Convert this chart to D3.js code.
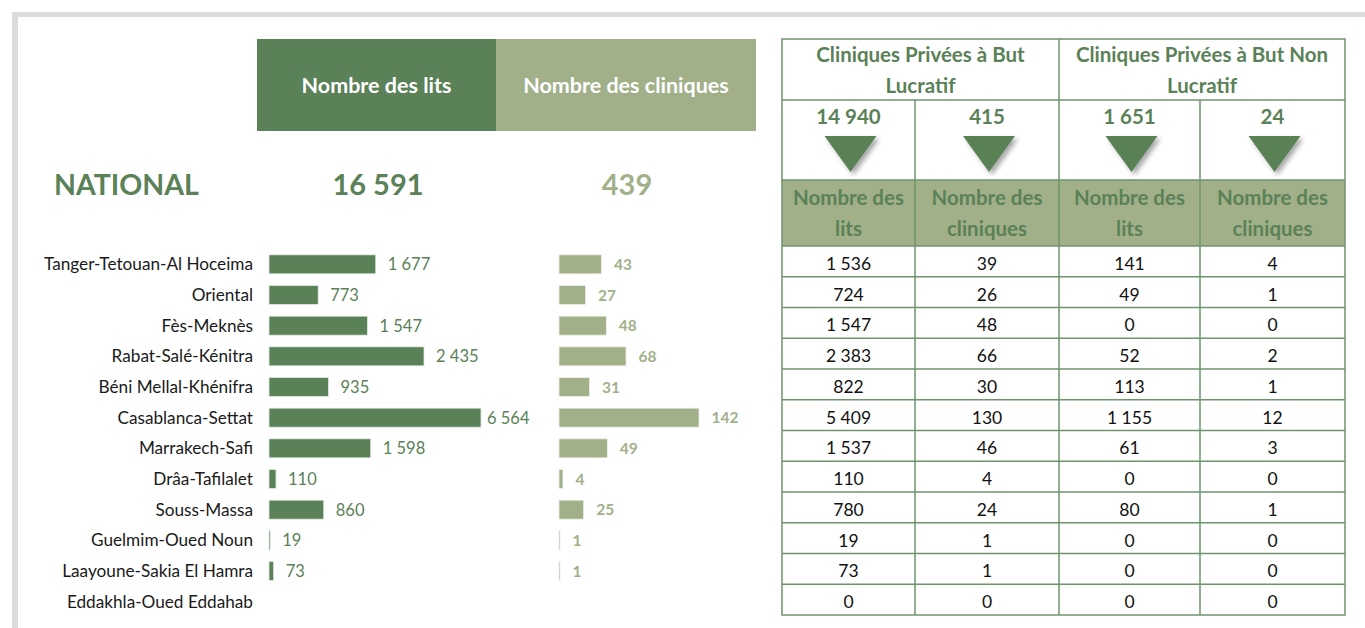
<!DOCTYPE html>
<html>
  <head>
    <meta charset="utf-8" />
    <title>Cliniques privées par région</title>
    <script src="https://d3js.org/d3.v7.min.js"></script>
    <style>
      body { margin: 0; background: #fff; }
      svg { display: block; font-family: Lato, "Open Sans", sans-serif; }
    </style>
  </head>
  <body>
    <svg width="1365" height="628"></svg>

    <script>
      // Regions (rows of the chart and the table)
      const regions = [
        "Tanger-Tetouan-Al Hoceima", "Oriental", "Fès-Meknès", "Rabat-Salé-Kénitra",
        "Béni Mellal-Khénifra", "Casablanca-Settat", "Marrakech-Safi", "Drâa-Tafilalet",
        "Souss-Massa", "Guelmim-Oued Noun", "Laayoune-Sakia El Hamra", "Eddakhla-Oued Eddahab",
      ];

      // Cliniques privées à but lucratif
      const lucratifLits = [1536, 724, 1547, 2383, 822, 5409, 1537, 110, 780, 19, 73, 0];
      const lucratifCliniques = [39, 26, 48, 66, 30, 130, 46, 4, 24, 1, 1, 0];
      // Cliniques privées à but non lucratif
      const nonLucratifLits = [141, 49, 0, 52, 113, 1155, 61, 0, 80, 0, 0, 0];
      const nonLucratifCliniques = [4, 1, 0, 2, 1, 12, 3, 0, 1, 0, 0, 0];

      const groupTitles = ["Cliniques Privées à But Lucratif", "Cliniques Privées à But Non Lucratif"];
      const subHeaders = ["Nombre des lits", "Nombre des cliniques"];

      // totals per region
      const totalLits = regions.map((r, i) => lucratifLits[i] + nonLucratifLits[i]);
      const totalCliniques = regions.map((r, i) => lucratifCliniques[i] + nonLucratifCliniques[i]);

      const darkGreen = "#5a8157";
      const lightGreen = "#a2b08a";
      const lineGreen = "#6f946c";

      const fmt = d3.formatLocale({ decimal: ",", thousands: " ", grouping: [3], currency: ["", ""] }).format(",d");

      const svg = d3.select("svg");

      // grey frame
      svg.append("rect").attr("x", 12).attr("y", 12).attr("width", 1353).attr("height", 5).attr("fill", "#dcdcdc");
      svg.append("rect").attr("x", 12).attr("y", 12).attr("width", 6).attr("height", 616).attr("fill", "#dcdcdc");

      // shadow for the triangles
      const defs = svg.append("defs");
      const f = defs.append("filter").attr("id", "shadow").attr("x", "-30%").attr("y", "-30%").attr("width", "170%").attr("height", "170%");
      f.append("feDropShadow").attr("dx", 3).attr("dy", 3).attr("stdDeviation", 2.5)
        .attr("flood-color", "#000").attr("flood-opacity", 0.35);

      // ---- left block: headers + national totals ----
      const headers = [
        { label: "Nombre des lits", x: 257, w: 239, fill: darkGreen },
        { label: "Nombre des cliniques", x: 496, w: 260, fill: lightGreen },
      ];
      svg.selectAll(".hdr").data(headers).enter().append("rect")
        .attr("x", (d) => d.x).attr("y", 39).attr("width", (d) => d.w).attr("height", 92)
        .attr("fill", (d) => d.fill);
      svg.selectAll(".hdrText").data(headers).enter().append("text")
        .attr("x", (d) => d.x + d.w / 2).attr("y", 93)
        .attr("text-anchor", "middle").attr("fill", "#fff")
        .attr("font-size", 21.5).attr("font-weight", "bold")
        .text((d) => d.label);

      svg.append("text").attr("x", 54).attr("y", 195)
        .attr("fill", darkGreen).attr("font-size", 28.5).attr("font-weight", "bold").text("NATIONAL");
      svg.append("text").attr("x", 378).attr("y", 195).attr("text-anchor", "middle")
        .attr("fill", darkGreen).attr("font-size", 29).attr("font-weight", "bold").text(fmt(d3.sum(totalLits)));
      svg.append("text").attr("x", 627).attr("y", 195).attr("text-anchor", "middle")
        .attr("fill", lightGreen).attr("font-size", 29).attr("font-weight", "bold").text(fmt(d3.sum(totalCliniques)));

      // ---- bar chart ----
      const y = d3.scaleBand().domain(regions).range([249, 617]).paddingInner(0.38).paddingOuter(0.19);
      // beds scale is clamped: the largest bar is cut short like in the original
      const litsMax = 3330;
      const xLits = d3.scaleLinear().domain([0, litsMax]).range([0, 212]).clamp(true);
      const xCli = d3.scaleLinear().domain([0, 142]).range([0, 140]);
      const litsX0 = 269, cliX0 = 559;

      const rowsG = svg.append("g");
      rowsG.selectAll(".cat").data(regions).enter().append("text")
        .attr("x", 253).attr("y", (d) => y(d) + y.bandwidth() / 2 + 6)
        .attr("text-anchor", "end").attr("fill", "#1a1a1a").attr("font-size", 17.2)
        .text((d) => d);

      const barData = regions.map((r, i) => ({ region: r, lits: totalLits[i], cli: totalCliniques[i] }));

      rowsG.selectAll(".barL").data(barData.filter((d) => d.lits > 0)).enter().append("rect")
        .attr("x", litsX0).attr("y", (d) => y(d.region))
        .attr("width", (d) => Math.max(1, xLits(d.lits))).attr("height", y.bandwidth())
        .attr("fill", darkGreen).attr("stroke", "#e4ece3").attr("stroke-width", 0.8);
      rowsG.selectAll(".valL").data(barData.filter((d) => d.lits > 0)).enter().append("text")
        .attr("x", (d) => litsX0 + Math.max(1, xLits(d.lits)) + (d.lits > litsMax ? 6 : 12))
        .attr("y", (d) => y(d.region) + y.bandwidth() / 2 + 6)
        .attr("fill", darkGreen).attr("font-size", 16.5)
        .text((d) => fmt(d.lits));

      rowsG.selectAll(".barC").data(barData.filter((d) => d.cli > 0)).enter().append("rect")
        .attr("x", cliX0).attr("y", (d) => y(d.region))
        .attr("width", (d) => Math.max(1, xCli(d.cli))).attr("height", y.bandwidth())
        .attr("fill", lightGreen).attr("stroke", "#eef1e8").attr("stroke-width", 0.8);
      rowsG.selectAll(".valC").data(barData.filter((d) => d.cli > 0)).enter().append("text")
        .attr("x", (d) => cliX0 + Math.max(1, xCli(d.cli)) + 12.5)
        .attr("y", (d) => y(d.region) + y.bandwidth() / 2 + 5.5)
        .attr("fill", lightGreen).attr("font-size", 15.5).attr("font-weight", "bold")
        .text((d) => fmt(d.cli));

      // ---- right table ----
      const colEdges = [782, 915, 1059, 1200, 1345];
      const columns = [lucratifLits, lucratifCliniques, nonLucratifLits, nonLucratifCliniques];
      const rowY = d3.scaleBand().domain(d3.range(regions.length)).range([246, 615]);
      const tbl = svg.append("g");

      // sub-header fill
      tbl.append("rect").attr("x", colEdges[0]).attr("y", 180).attr("width", colEdges[4] - colEdges[0])
        .attr("height", 66).attr("fill", lightGreen);

      // group titles
      groupTitles.forEach((t, g) => {
        const cx = (colEdges[g * 2] + colEdges[g * 2 + 2]) / 2;
        const words = t.split(" ");
        const last = words.pop();
        [words.join(" "), last].forEach((line, k) => {
          tbl.append("text").attr("x", cx).attr("y", 62 + k * 31).attr("text-anchor", "middle")
            .attr("fill", darkGreen).attr("font-size", 20.5).attr("font-weight", "bold").text(line);
        });
      });

      // totals + triangles
      columns.forEach((col, c) => {
        const cx = (colEdges[c] + colEdges[c + 1]) / 2;
        tbl.append("text").attr("x", cx).attr("y", 124).attr("text-anchor", "middle")
          .attr("fill", darkGreen).attr("font-size", 20.5).attr("font-weight", "bold").text(fmt(d3.sum(col)));
        tbl.append("path")
          .attr("d", `M${cx - 24},136 L${cx + 28},136 L${cx + 2},172 Z`)
          .attr("fill", darkGreen).attr("filter", "url(#shadow)");
        const sh = subHeaders[c % 2].split(" ");
        const last = sh.pop();
        [sh.join(" "), last].forEach((line, k) => {
          tbl.append("text").attr("x", cx).attr("y", 205 + k * 31).attr("text-anchor", "middle")
            .attr("fill", darkGreen).attr("font-size", 20.5).attr("font-weight", "bold").text(line);
        });
      });

      // data cells
      columns.forEach((col, c) => {
        const cx = (colEdges[c] + colEdges[c + 1]) / 2;
        tbl.selectAll(null).data(col).enter().append("text")
          .attr("x", cx).attr("y", (d, i) => rowY(i) + rowY.bandwidth() / 2 + 8.5)
          .attr("text-anchor", "middle").attr("fill", "#111").attr("font-size", 17.5)
          .text((d) => fmt(d));
      });

      // grid lines
      const hLines = [
        { y: 100, x1: colEdges[0], x2: colEdges[4] },
        { y: 180, x1: colEdges[0], x2: colEdges[4] },
        { y: 246, x1: colEdges[0], x2: colEdges[4] },
      ].concat(d3.range(1, regions.length).map((i) => ({ y: rowY(i), x1: colEdges[0], x2: colEdges[4] })));
      tbl.selectAll(".hl").data(hLines).enter().append("line")
        .attr("x1", (d) => d.x1).attr("x2", (d) => d.x2).attr("y1", (d) => d.y).attr("y2", (d) => d.y)
        .attr("stroke", lineGreen).attr("stroke-width", 1.5);
      const vLines = [
        { x: colEdges[1], y1: 100 }, { x: colEdges[2], y1: 39 }, { x: colEdges[3], y1: 100 },
      ];
      tbl.selectAll(".vl").data(vLines).enter().append("line")
        .attr("x1", (d) => d.x).attr("x2", (d) => d.x).attr("y1", (d) => d.y1).attr("y2", 615)
        .attr("stroke", lineGreen).attr("stroke-width", 1.5);
      tbl.append("rect").attr("x", colEdges[0]).attr("y", 39)
        .attr("width", colEdges[4] - colEdges[0]).attr("height", 615 - 39)
        .attr("fill", "none").attr("stroke", lineGreen).attr("stroke-width", 1.5);
    </script>
  </body>
</html>
